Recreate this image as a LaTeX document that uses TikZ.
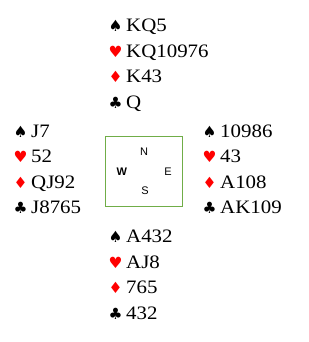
\documentclass[tikz,border=0pt]{standalone}
\usepackage{fontspec}
\setmainfont{Liberation Serif}[FakeStretch=1.1]
\newfontfamily\symfont{DejaVu Sans}
\newfontfamily\arialfont{Liberation Sans}
\definecolor{boxgreen}{HTML}{70AD47}
\definecolor{suitred}{HTML}{FF0000}
\newcommand{\spd}{\char"2660}
\newcommand{\hrt}{\char"2665}
\newcommand{\dmd}{\char"2666}
\newcommand{\clb}{\char"2663}
% \handline{name}{x}{y}{suit style}{suit}{cards}
\newcommand{\handline}[6]{%
  \node[suit,#4] (#1s) at (#2,#3) {#5};
  \node[cards] (#1t) at (#2+17.5,#3) {#6};}
\begin{document}
\begin{tikzpicture}[x=1pt,y=-1pt,
  suit/.style={anchor=base west,inner sep=0pt,font=\symfont\fontsize{15.5}{16}\selectfont},
  blacksuit/.style={text=black},
  redsuit/.style={text=suitred},
  cards/.style={anchor=base west,inner sep=0pt,font=\fontsize{19}{20}\selectfont},
  compass/.style={inner sep=0pt,font=\arialfont\fontsize{11}{12}\selectfont}]
\useasboundingbox (0,0) rectangle (308,342);
% North
\handline{n1}{108.5}{32}{blacksuit}{\spd}{KQ5}
\handline{n2}{108.5}{57.5}{redsuit}{\hrt}{KQ10976}
\handline{n3}{108.5}{83}{redsuit}{\dmd}{K43}
\handline{n4}{108.5}{108.5}{blacksuit}{\clb}{Q}
% West
\handline{w1}{13.5}{137}{blacksuit}{\spd}{J7}
\handline{w2}{13.5}{162.5}{redsuit}{\hrt}{52}
\handline{w3}{13.5}{188}{redsuit}{\dmd}{QJ92}
\handline{w4}{13.5}{213.5}{blacksuit}{\clb}{J8765}
% East
\handline{e1}{202.5}{137}{blacksuit}{\spd}{10986}
\handline{e2}{202.5}{162.5}{redsuit}{\hrt}{43}
\handline{e3}{202.5}{188}{redsuit}{\dmd}{A108}
\handline{e4}{202.5}{213.5}{blacksuit}{\clb}{AK109}
% South
\handline{s1}{108.5}{242.5}{blacksuit}{\spd}{A432}
\handline{s2}{108.5}{268}{redsuit}{\hrt}{AJ8}
\handline{s3}{108.5}{293.5}{redsuit}{\dmd}{765}
\handline{s4}{108.5}{319}{blacksuit}{\clb}{432}
% compass
\node[draw=boxgreen,line width=0.9pt,minimum width=77pt,minimum height=70pt,inner sep=0pt] (box) at (143.7,171.8) {};
\node[compass] (cn) at (144,152) {N};
\node[compass,font=\arialfont\bfseries\fontsize{11}{12}\selectfont] (cw) at (121.7,172) {W};
\node[compass] (ce) at (168,172) {E};
\node[compass] (cs) at (145,191) {S};
\end{tikzpicture}
\end{document}
